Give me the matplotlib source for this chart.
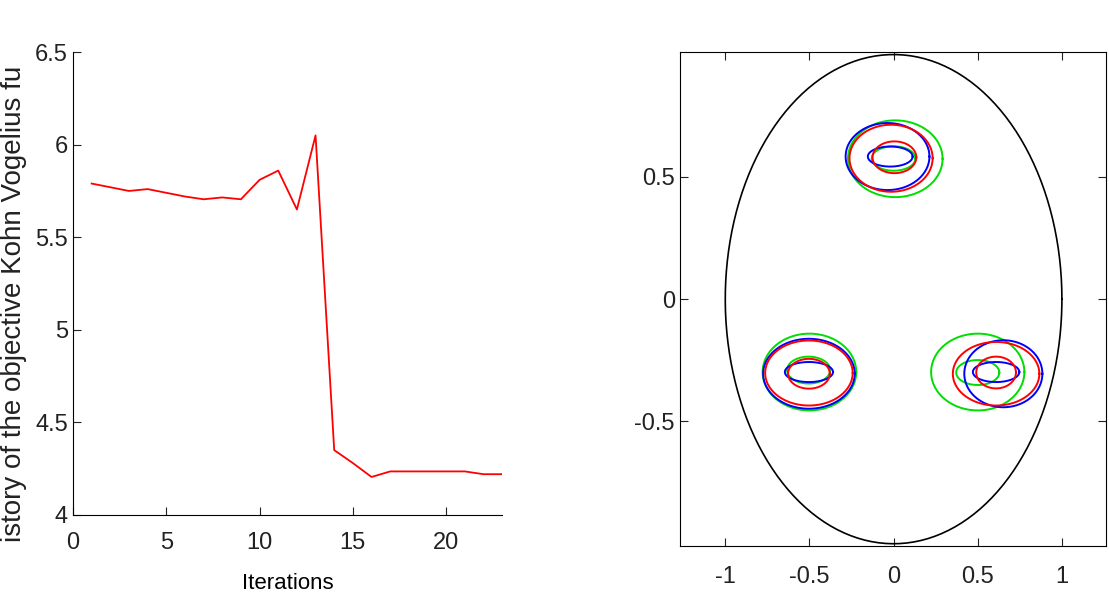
#!/usr/bin/env python3
import numpy as np
import matplotlib
matplotlib.use("Agg")
import matplotlib.pyplot as plt

plt.rcParams['font.family'] = ['Liberation Sans', 'DejaVu Sans']

# objective history (left panel)
iterations = list(range(1, 24))
objective = [5.79, 5.77, 5.75, 5.76, 5.74, 5.72, 5.705, 5.715, 5.705, 5.81,
             5.86, 5.65, 6.05, 4.35, 4.28, 4.205, 4.235, 4.235, 4.235, 4.235,
             4.235, 4.22, 4.22]

# inclusions (right panel): centre x, centre y, radius x, radius y
green_cx = [0.01, -0.50, 0.50, 0.00, -0.505, 0.50]
green_cy = [0.574, -0.298, -0.298, 0.575, -0.29, -0.30]
green_rx = [0.281, 0.278, 0.277, 0.13, 0.128, 0.128]
green_ry = [0.157, 0.157, 0.157, 0.05, 0.055, 0.051]

red_cx = [-0.015, -0.503, 0.609, 0.005, -0.503, 0.609]
red_cy = [0.576, -0.302, -0.305, 0.580, -0.305, -0.30]
red_rx = [0.247, 0.26, 0.257, 0.13, 0.124, 0.118]
red_ry = [0.137, 0.133, 0.13, 0.065, 0.061, 0.065]

blue_cx = [-0.036, -0.503, 0.652, -0.02, -0.503, 0.609]
blue_cy = [0.583, -0.305, -0.305, 0.583, -0.298, -0.298]
blue_rx = [0.249, 0.272, 0.232, 0.133, 0.143, 0.138]
blue_ry = [0.137, 0.143, 0.137, 0.041, 0.041, 0.041]

fig = plt.figure(figsize=(11.09, 6.13), dpi=100)

# ---- left: convergence history
ax1 = fig.add_axes([0.0658, 0.16, 0.387, 0.755])
ax1.plot(iterations, objective, color='red', lw=1.3)
ax1.set_xlim(0, 23)
ax1.set_ylim(4, 6.5)
ax1.set_xticks([0, 5, 10, 15, 20])
ax1.set_yticks([4, 4.5, 5, 5.5, 6, 6.5])
ax1.set_yticklabels(['4', '4.5', '5', '5.5', '6', '6.5'])
ax1.spines['top'].set_visible(False)
ax1.spines['right'].set_visible(False)
ax1.tick_params(direction='in', length=6, labelsize=17, colors='#222222')
ax1.tick_params(axis='x', pad=12)
ax1.set_xlabel('Iterations', fontsize=16, labelpad=14)
fig.text(0.0125, 0.505, 'istory of the objective Kohn Vogelius fu', rotation=90,
         fontsize=20, ha='center', va='center', color='#222222')

# ---- right: domain with inclusions
ax2 = fig.add_axes([0.613, 0.109, 0.384, 0.806])
t = np.linspace(0, 2 * np.pi, 300)
ax2.plot(np.cos(t), np.sin(t), color='black', lw=1.2)
for cx, cy, rx, ry, col in [(green_cx, green_cy, green_rx, green_ry, '#00dd00'),
                            (blue_cx, blue_cy, blue_rx, blue_ry, 'blue'),
                            (red_cx, red_cy, red_rx, red_ry, 'red')]:
    for i in range(len(cx)):
        ax2.plot(cx[i] + rx[i] * np.cos(t), cy[i] + ry[i] * np.sin(t),
                 color=col, lw=1.4)
ax2.set_xlim(-1.27, 1.26)
ax2.set_ylim(-1.01, 1.01)
ax2.set_xticks([-1, -0.5, 0, 0.5, 1])
ax2.set_xticklabels(['-1', '-0.5', '0', '0.5', '1'])
ax2.set_yticks([-0.5, 0, 0.5])
ax2.set_yticklabels(['-0.5', '0', '0.5'])
ax2.tick_params(direction='in', length=6, labelsize=17, top=True, right=True,
                colors='#222222')
ax2.tick_params(axis='x', pad=14)

fig.savefig('out.png', dpi=100)
